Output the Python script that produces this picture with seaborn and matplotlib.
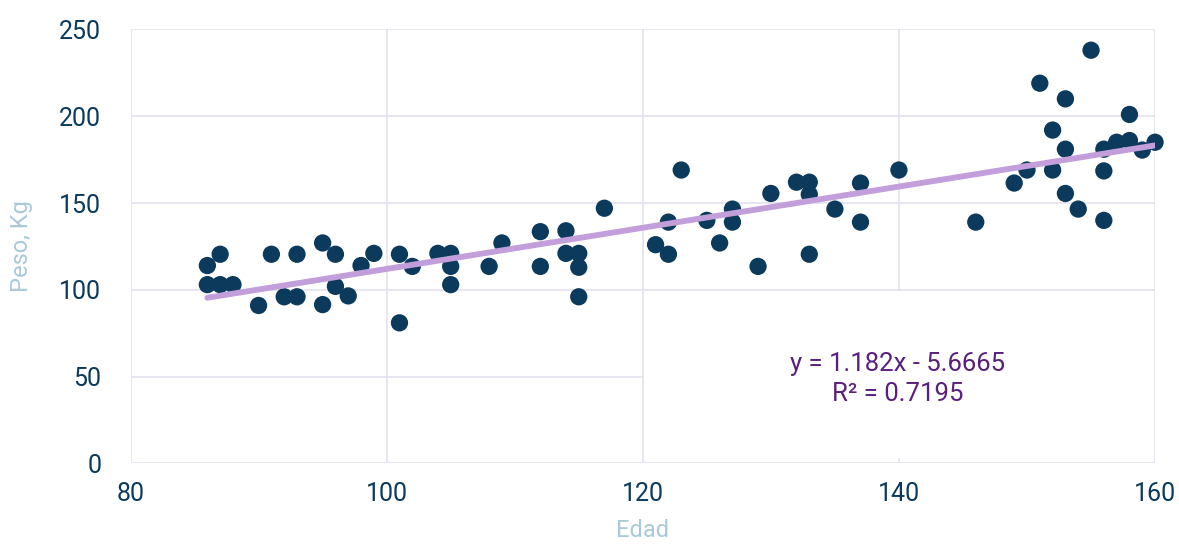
import matplotlib
matplotlib.use("Agg")
import matplotlib.pyplot as plt
from matplotlib.patches import Rectangle
import seaborn as sns
import pandas as pd

edad = [86, 87, 86, 87, 88, 90, 91, 92, 93, 93, 95, 95, 96, 96, 97, 98, 99, 101, 101, 102,
        104, 105, 105, 105, 108, 109, 112, 112, 114, 114, 115, 115, 115, 117, 121, 122, 122,
        123, 125, 126, 127, 127, 129, 130, 132, 133, 133, 133, 135, 137, 137, 140, 146, 149,
        150, 151, 152, 152, 153, 153, 153, 154, 155, 156, 156, 156, 157, 158, 158, 159, 160]
peso = [114, 120.5, 103, 103, 103, 91, 120.5, 96, 120.5, 96, 127, 91.5, 120.5, 102, 96.5, 114, 121, 120.5, 81, 113.5,
        121, 121, 113.5, 103, 113.5, 127, 133.5, 113.5, 134, 121, 121, 113, 96, 147, 126, 120.5, 139,
        169, 140, 127, 146.5, 139, 113.5, 155.5, 162, 162, 155, 120.5, 146.5, 161.5, 139, 169, 139, 161.5,
        169, 219, 192, 169, 210, 181, 155.5, 146.5, 238, 181, 168.5, 140, 185, 186, 201, 180.5, 185]

x_ticks = [80, 100, 120, 140, 160]
y_ticks = [0, 50, 100, 150, 200, 250]
equation = "y = 1.182x - 5.6665\nR² = 0.7195"

df = pd.DataFrame({"Edad": edad, "Peso": peso})

sns.set_theme(style="white")
fam = ["Roboto", "DejaVu Sans"]
plt.rcParams["font.family"] = fam

fig = plt.figure(figsize=(11.79, 5.44), dpi=100)
ax = fig.add_axes([0.1107, 0.148, 0.869, 0.798])

navy = "#0B3A5C"
grid_c = "#E4E2EE"

ax.set_axisbelow(True)
ax.grid(True, color=grid_c, linewidth=1.2)
for s in ax.spines.values():
    s.set_visible(False)

# white label area covering grid
ax.add_patch(Rectangle((120.1, 3), 39.8, 96.5, facecolor="white", edgecolor="none", zorder=1))

sns.scatterplot(data=df, x="Edad", y="Peso", ax=ax, s=155, color=navy, edgecolor="none",
                linewidth=0, zorder=2, clip_on=False)
sns.regplot(data=df, x="Edad", y="Peso", ax=ax, scatter=False, ci=None, truncate=True,
            line_kws=dict(color="#C29FDB", linewidth=4.2, solid_capstyle="round", zorder=3))

ax.set_xlim(80, 160)
ax.set_ylim(0, 250)
ax.set_xticks(x_ticks)
ax.set_yticks(y_ticks)
ax.tick_params(axis="x", length=0, pad=13, labelsize=18, labelcolor=navy)
ax.tick_params(axis="y", length=0, pad=21, labelsize=18, labelcolor=navy)

ax.set_xlabel("Edad", fontsize=17, color="#A9CAD9")
ax.set_ylabel("Peso, Kg", fontsize=17, color="#A9CAD9")
ax.xaxis.set_label_coords(0.5, -0.128)
ax.yaxis.set_label_coords(-0.095, 0.5)

ax.text(139.9, 48.6, equation, ha="center", va="center", fontsize=18.5, color="#5A1F7E",
        linespacing=1.3, zorder=4)

fig.savefig("out.png", dpi=100)
